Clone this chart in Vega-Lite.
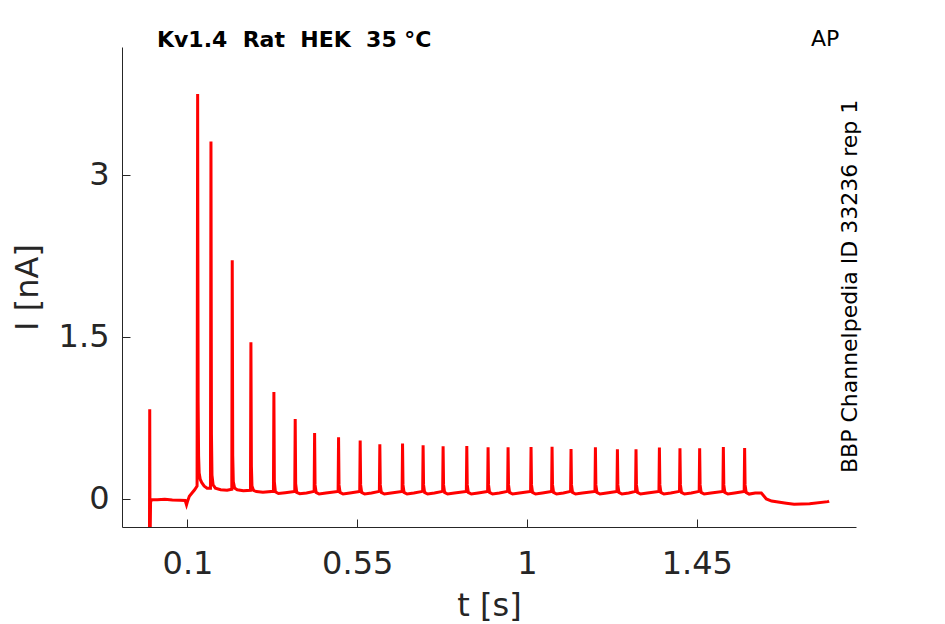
{
  "$schema": "https://vega.github.io/schema/vega-lite/v6.json",
  "autosize": {"type": "none"},
  "padding": {"left": 122, "top": 47, "right": 89, "bottom": 97},
  "width": 734,
  "height": 480,
  "background": "white",
  "layer": [
    {
      "data": {
        "values": [
          {"t": -0.0008, "i": -0.6}, {"t": 0.0, "i": 0.83}, {"t": 0.0008, "i": -0.45}, {"t": 0.0022, "i": -0.03},
          {"t": 0.005, "i": -0.005}, {"t": 0.02, "i": -0.008}, {"t": 0.04, "i": -0.004}, {"t": 0.06, "i": -0.01},
          {"t": 0.08, "i": -0.012}, {"t": 0.094, "i": -0.015}, {"t": 0.0975, "i": -0.055}, {"t": 0.1, "i": -0.025},
          {"t": 0.105, "i": 0.025}, {"t": 0.112, "i": 0.055}, {"t": 0.119, "i": 0.085}, {"t": 0.1255, "i": 0.12},
          {"t": 0.127, "i": 3.75}, {"t": 0.1283, "i": 0.9}, {"t": 0.1295, "i": 0.4}, {"t": 0.131, "i": 0.24},
          {"t": 0.134, "i": 0.18}, {"t": 0.138, "i": 0.15}, {"t": 0.144, "i": 0.12}, {"t": 0.152, "i": 0.1},
          {"t": 0.161, "i": 0.1},
          {"t": 0.1623, "i": 3.31}, {"t": 0.1636, "i": 0.6}, {"t": 0.165, "i": 0.22}, {"t": 0.168, "i": 0.13},
          {"t": 0.174, "i": 0.1}, {"t": 0.188, "i": 0.085}, {"t": 0.205, "i": 0.08}, {"t": 0.2175, "i": 0.09},
          {"t": 0.2187, "i": 2.21}, {"t": 0.22, "i": 0.4}, {"t": 0.2215, "i": 0.16}, {"t": 0.225, "i": 0.1},
          {"t": 0.232, "i": 0.085}, {"t": 0.248, "i": 0.075}, {"t": 0.267, "i": 0.08},
          {"t": 0.2682, "i": 1.45}, {"t": 0.2695, "i": 0.3}, {"t": 0.271, "i": 0.12}, {"t": 0.275, "i": 0.08},
          {"t": 0.283, "i": 0.068}, {"t": 0.3, "i": 0.062}, {"t": 0.3279, "i": 0.07},
          {"t": 0.3291, "i": 0.99}, {"t": 0.3303, "i": 0.16}, {"t": 0.3331, "i": 0.065}, {"t": 0.3411, "i": 0.05}, {"t": 0.3591, "i": 0.058}, {"t": 0.3844, "i": 0.07},
          {"t": 0.3856, "i": 0.74}, {"t": 0.3868, "i": 0.14}, {"t": 0.3896, "i": 0.06}, {"t": 0.3976, "i": 0.048}, {"t": 0.4156, "i": 0.055}, {"t": 0.4358, "i": 0.07},
          {"t": 0.437, "i": 0.61}, {"t": 0.4382, "i": 0.13}, {"t": 0.441, "i": 0.06}, {"t": 0.449, "i": 0.045}, {"t": 0.467, "i": 0.055}, {"t": 0.4993, "i": 0.07},
          {"t": 0.5005, "i": 0.57}, {"t": 0.5017, "i": 0.13}, {"t": 0.5045, "i": 0.06}, {"t": 0.5125, "i": 0.045}, {"t": 0.5305, "i": 0.055}, {"t": 0.5566, "i": 0.07},
          {"t": 0.5578, "i": 0.54}, {"t": 0.559, "i": 0.13}, {"t": 0.5618, "i": 0.06}, {"t": 0.5698, "i": 0.045}, {"t": 0.5878, "i": 0.055}, {"t": 0.6087, "i": 0.07},
          {"t": 0.6099, "i": 0.506}, {"t": 0.6111, "i": 0.13}, {"t": 0.6139, "i": 0.06}, {"t": 0.6219, "i": 0.045}, {"t": 0.6399, "i": 0.055}, {"t": 0.6689, "i": 0.07},
          {"t": 0.6701, "i": 0.512}, {"t": 0.6713, "i": 0.13}, {"t": 0.6741, "i": 0.06}, {"t": 0.6821, "i": 0.045}, {"t": 0.7001, "i": 0.055}, {"t": 0.7234, "i": 0.07},
          {"t": 0.7246, "i": 0.497}, {"t": 0.7258, "i": 0.13}, {"t": 0.7286, "i": 0.06}, {"t": 0.7366, "i": 0.045}, {"t": 0.7546, "i": 0.055}, {"t": 0.7764, "i": 0.07},
          {"t": 0.7776, "i": 0.488}, {"t": 0.7788, "i": 0.13}, {"t": 0.7816, "i": 0.06}, {"t": 0.7896, "i": 0.045}, {"t": 0.8076, "i": 0.055}, {"t": 0.8392, "i": 0.07},
          {"t": 0.8404, "i": 0.49}, {"t": 0.8416, "i": 0.13}, {"t": 0.8444, "i": 0.06}, {"t": 0.8524, "i": 0.045}, {"t": 0.8704, "i": 0.055}, {"t": 0.8956, "i": 0.07},
          {"t": 0.8968, "i": 0.479}, {"t": 0.898, "i": 0.13}, {"t": 0.9008, "i": 0.06}, {"t": 0.9088, "i": 0.045}, {"t": 0.9268, "i": 0.055}, {"t": 0.9486, "i": 0.07},
          {"t": 0.9498, "i": 0.479}, {"t": 0.951, "i": 0.13}, {"t": 0.9538, "i": 0.06}, {"t": 0.9618, "i": 0.045}, {"t": 0.9798, "i": 0.055}, {"t": 1.0095, "i": 0.07},
          {"t": 1.0107, "i": 0.481}, {"t": 1.0119, "i": 0.13}, {"t": 1.0147, "i": 0.06}, {"t": 1.0227, "i": 0.045}, {"t": 1.0407, "i": 0.055}, {"t": 1.0652, "i": 0.07},
          {"t": 1.0664, "i": 0.484}, {"t": 1.0676, "i": 0.13}, {"t": 1.0704, "i": 0.06}, {"t": 1.0784, "i": 0.045}, {"t": 1.0964, "i": 0.055}, {"t": 1.1155, "i": 0.07},
          {"t": 1.1167, "i": 0.463}, {"t": 1.1179, "i": 0.13}, {"t": 1.1207, "i": 0.06}, {"t": 1.1287, "i": 0.045}, {"t": 1.1467, "i": 0.055}, {"t": 1.1801, "i": 0.07},
          {"t": 1.1813, "i": 0.479}, {"t": 1.1825, "i": 0.13}, {"t": 1.1853, "i": 0.06}, {"t": 1.1933, "i": 0.045}, {"t": 1.2113, "i": 0.055}, {"t": 1.2384, "i": 0.07},
          {"t": 1.2396, "i": 0.46}, {"t": 1.2408, "i": 0.13}, {"t": 1.2436, "i": 0.06}, {"t": 1.2516, "i": 0.045}, {"t": 1.2696, "i": 0.055}, {"t": 1.2877, "i": 0.07},
          {"t": 1.2889, "i": 0.46}, {"t": 1.2901, "i": 0.13}, {"t": 1.2929, "i": 0.06}, {"t": 1.3009, "i": 0.045}, {"t": 1.3189, "i": 0.055}, {"t": 1.3497, "i": 0.07},
          {"t": 1.3509, "i": 0.475}, {"t": 1.3521, "i": 0.13}, {"t": 1.3549, "i": 0.06}, {"t": 1.3629, "i": 0.045}, {"t": 1.3809, "i": 0.055}, {"t": 1.4042, "i": 0.07},
          {"t": 1.4054, "i": 0.469}, {"t": 1.4066, "i": 0.13}, {"t": 1.4094, "i": 0.06}, {"t": 1.4174, "i": 0.045}, {"t": 1.4354, "i": 0.055}, {"t": 1.4564, "i": 0.07},
          {"t": 1.4576, "i": 0.469}, {"t": 1.4588, "i": 0.13}, {"t": 1.4616, "i": 0.06}, {"t": 1.4696, "i": 0.045}, {"t": 1.4876, "i": 0.055}, {"t": 1.5192, "i": 0.07},
          {"t": 1.5204, "i": 0.481}, {"t": 1.5216, "i": 0.13}, {"t": 1.5244, "i": 0.06}, {"t": 1.5324, "i": 0.045}, {"t": 1.5504, "i": 0.055}, {"t": 1.5756, "i": 0.07},
          {"t": 1.5768, "i": 0.472}, {"t": 1.578, "i": 0.13}, {"t": 1.5808, "i": 0.06}, {"t": 1.5888, "i": 0.045}, {"t": 1.6048, "i": 0.055},
          {"t": 1.6211, "i": 0.055}, {"t": 1.6272, "i": 0.03}, {"t": 1.6343, "i": 0.0}, {"t": 1.6483, "i": -0.02},
          {"t": 1.6873, "i": -0.04}, {"t": 1.7079, "i": -0.05}, {"t": 1.749, "i": -0.045}, {"t": 1.7975, "i": -0.025},
          {"t": 1.8007, "i": -0.02}
        ]
      },
      "mark": {"type": "line", "color": "#ff0000", "strokeWidth": 3, "clip": true},
      "encoding": {
        "x": {
          "field": "t",
          "type": "quantitative",
          "title": "t [s]",
          "scale": {"domain": [-0.0735, 1.872], "nice": false, "zero": false},
          "axis": {"values": [0.1, 0.55, 1, 1.45], "format": ".3~g", "labelPadding": 29, "titlePadding": 11}
        },
        "y": {
          "field": "i",
          "type": "quantitative",
          "title": "I [nA]",
          "scale": {"domain": [-0.26, 4.185], "nice": false, "zero": false},
          "axis": {"values": [0, 1.5, 3], "format": ".3~g", "labelPadding": 21, "titlePadding": 14}
        }
      }
    },
    {
      "data": {"values": [{"label": "Kv1.4\u00a0\u00a0Rat\u00a0\u00a0HEK\u00a0\u00a035\u00a0°C"}]},
      "mark": {"type": "text", "font": "DejaVu Sans", "fontSize": 22, "fontWeight": "bold", "color": "black", "align": "left", "baseline": "alphabetic"},
      "encoding": {
        "x": {"datum": 0.0192, "type": "quantitative"},
        "y": {"datum": 4.183, "type": "quantitative"},
        "text": {"field": "label"}
      }
    },
    {
      "data": {"values": [{"label": "AP"}]},
      "mark": {"type": "text", "font": "DejaVu Sans", "fontSize": 22, "color": "black", "align": "center", "baseline": "alphabetic"},
      "encoding": {
        "x": {"datum": 1.79, "type": "quantitative"},
        "y": {"datum": 4.194, "type": "quantitative"},
        "text": {"field": "label"}
      }
    },
    {
      "data": {"values": [{"label": "BBP Channelpedia ID 33236 rep 1"}]},
      "mark": {"type": "text", "font": "DejaVu Sans", "fontSize": 22, "color": "black", "align": "center", "baseline": "alphabetic", "angle": 270},
      "encoding": {
        "x": {"datum": 1.8735, "type": "quantitative"},
        "y": {"datum": 1.968, "type": "quantitative"},
        "text": {"field": "label"}
      }
    }
  ],
  "config": {
    "view": {"stroke": null},
    "axis": {
      "grid": false,
      "domainColor": "#262626",
      "domainWidth": 1,
      "tickColor": "#262626",
      "tickWidth": 1,
      "tickSize": -8,
      "labelColor": "#262626",
      "labelFont": "DejaVu Sans",
      "labelFontSize": 32,
      "titleColor": "#262626",
      "titleFont": "DejaVu Sans",
      "titleFontSize": 32,
      "titleFontWeight": "normal"
    }
  }
}
